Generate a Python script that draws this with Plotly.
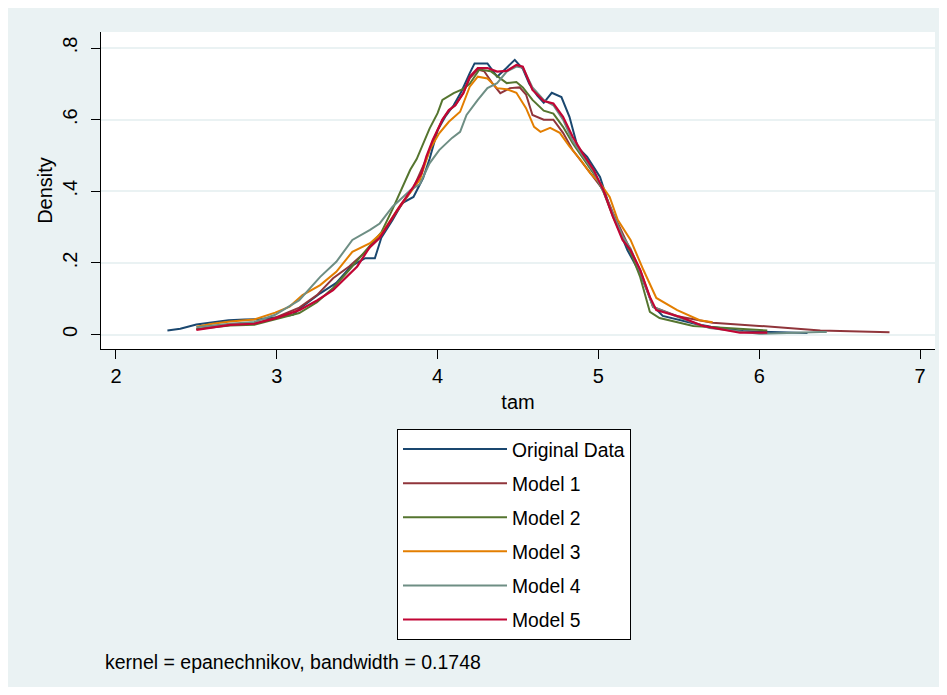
import plotly.graph_objects as go

# ---------------- data ----------------
orig_x = [2.32, 2.40, 2.50, 2.60, 2.70, 2.80, 2.90, 3.00, 3.10, 3.15, 3.27, 3.37, 3.46, 3.55, 3.61, 3.65,
          3.72, 3.78, 3.85, 3.91, 3.95, 4.00, 4.05, 4.10, 4.15, 4.20, 4.23, 4.31, 4.37, 4.43, 4.48, 4.53,
          4.57, 4.62, 4.66, 4.71, 4.77, 4.82, 4.87, 4.93, 5.01, 5.07, 5.13, 5.18, 5.26, 5.34, 5.40, 5.50,
          5.60, 5.70, 5.80, 5.90, 6.00, 6.10, 6.20, 6.30]
orig_y = [0.011, 0.016, 0.028, 0.035, 0.040, 0.042, 0.043, 0.048, 0.055, 0.075, 0.115, 0.144, 0.190, 0.213, 0.213, 0.270,
          0.320, 0.367, 0.384, 0.437, 0.490, 0.570, 0.610, 0.640, 0.680, 0.730, 0.757, 0.757, 0.720, 0.745, 0.767, 0.742,
          0.700, 0.667, 0.647, 0.675, 0.663, 0.608, 0.524, 0.496, 0.440, 0.356, 0.292, 0.236, 0.170, 0.080, 0.052, 0.040,
          0.030, 0.022, 0.015, 0.010, 0.008, 0.006, 0.005, 0.004]

m1_x = [2.50, 2.60, 2.71, 2.86, 2.99, 3.14, 3.25, 3.35, 3.45, 3.55, 3.64, 3.75, 3.85, 3.93, 3.97, 4.03, 4.07, 4.11,
        4.16, 4.20, 4.25, 4.29, 4.34, 4.39, 4.45, 4.51, 4.55, 4.59, 4.66, 4.72, 4.78, 4.84, 4.90, 4.97, 5.03, 5.09,
        5.15, 5.20, 5.26, 5.34, 5.50, 5.71, 6.00, 6.38, 6.81]
m1_y = [0.015, 0.020, 0.027, 0.030, 0.047, 0.075, 0.110, 0.157, 0.190, 0.230, 0.270, 0.345, 0.410, 0.490, 0.540, 0.600, 0.625, 0.640,
        0.674, 0.715, 0.740, 0.735, 0.702, 0.674, 0.688, 0.690, 0.670, 0.613, 0.600, 0.600, 0.563, 0.515, 0.479, 0.440, 0.404, 0.340,
        0.280, 0.235, 0.180, 0.077, 0.050, 0.033, 0.024, 0.011, 0.006]

m2_x = [2.50, 2.60, 2.71, 2.86, 2.99, 3.14, 3.25, 3.35, 3.45, 3.58, 3.65, 3.72, 3.77, 3.83, 3.87, 3.91, 3.95, 4.00,
        4.03, 4.10, 4.16, 4.20, 4.26, 4.33, 4.39, 4.43, 4.49, 4.53, 4.59, 4.66, 4.72, 4.78, 4.84, 4.90, 4.97, 5.03,
        5.09, 5.15, 5.20, 5.26, 5.32, 5.38, 5.51, 5.59, 6.05]
m2_y = [0.015, 0.020, 0.025, 0.027, 0.042, 0.060, 0.090, 0.130, 0.180, 0.250, 0.285, 0.350, 0.400, 0.460, 0.490, 0.530, 0.575, 0.618,
        0.655, 0.674, 0.686, 0.700, 0.740, 0.735, 0.716, 0.702, 0.705, 0.690, 0.655, 0.625, 0.617, 0.580, 0.534, 0.496, 0.450, 0.400,
        0.330, 0.270, 0.230, 0.160, 0.063, 0.046, 0.032, 0.024, 0.011]

m3_x = [2.50, 2.60, 2.71, 2.86, 2.99, 3.08, 3.16, 3.27, 3.37, 3.47, 3.58, 3.66, 3.77, 3.89, 3.95, 4.01, 4.07, 4.14,
        4.20, 4.25, 4.31, 4.37, 4.43, 4.49, 4.55, 4.60, 4.64, 4.70, 4.76, 4.82, 4.89, 4.95, 5.01, 5.07, 5.12, 5.20,
        5.28, 5.36, 5.49, 5.63, 5.71]
m3_y = [0.022, 0.030, 0.036, 0.042, 0.061, 0.078, 0.110, 0.138, 0.175, 0.231, 0.255, 0.287, 0.362, 0.432, 0.515, 0.562, 0.594, 0.622,
        0.692, 0.720, 0.715, 0.688, 0.685, 0.675, 0.632, 0.580, 0.566, 0.577, 0.563, 0.525, 0.487, 0.450, 0.423, 0.384, 0.320, 0.264,
        0.180, 0.102, 0.068, 0.040, 0.034]

m4_x = [2.50, 2.60, 2.71, 2.86, 2.99, 3.14, 3.27, 3.37, 3.47, 3.58, 3.64, 3.72, 3.83, 3.89, 3.95, 4.01, 4.09, 4.14,
        4.18, 4.25, 4.31, 4.37, 4.43, 4.49, 4.53, 4.59, 4.66, 4.72, 4.78, 4.84, 4.90, 4.97, 5.03, 5.09, 5.15, 5.20,
        5.26, 5.34, 5.51, 5.69, 6.00, 6.38, 6.42]
m4_y = [0.020, 0.025, 0.030, 0.035, 0.055, 0.096, 0.161, 0.203, 0.264, 0.292, 0.310, 0.357, 0.403, 0.420, 0.478, 0.515, 0.549, 0.566,
        0.613, 0.655, 0.688, 0.702, 0.734, 0.748, 0.745, 0.690, 0.655, 0.640, 0.600, 0.540, 0.500, 0.455, 0.400, 0.335, 0.275, 0.240,
        0.175, 0.077, 0.046, 0.018, 0.002, 0.007, 0.007]

m5_x = [2.50, 2.60, 2.71, 2.86, 2.99, 3.14, 3.25, 3.35, 3.50, 3.58, 3.64, 3.75, 3.85, 3.90, 3.93, 3.97, 4.03, 4.07,
        4.11, 4.16, 4.20, 4.25, 4.31, 4.37, 4.43, 4.49, 4.53, 4.59, 4.66, 4.72, 4.78, 4.84, 4.90, 4.97, 5.03, 5.09,
        5.15, 5.20, 5.26, 5.32, 5.36, 5.51, 5.65, 5.88, 6.05]
m5_y = [0.013, 0.020, 0.027, 0.030, 0.045, 0.068, 0.095, 0.124, 0.190, 0.245, 0.270, 0.348, 0.413, 0.450, 0.497, 0.543, 0.600, 0.627,
        0.640, 0.674, 0.720, 0.744, 0.744, 0.734, 0.736, 0.753, 0.748, 0.683, 0.652, 0.645, 0.608, 0.552, 0.507, 0.460, 0.404, 0.329,
        0.264, 0.236, 0.180, 0.105, 0.068, 0.049, 0.024, 0.005, 0.005]

series_names = ["Original Data", "Model 1", "Model 2", "Model 3", "Model 4", "Model 5"]
series_x = [orig_x, m1_x, m2_x, m3_x, m4_x, m5_x]
series_y = [orig_y, m1_y, m2_y, m3_y, m4_y, m5_y]
series_colors = ["#1A476F", "#90353B", "#55752F", "#E37E00", "#6E8E84", "#C10534"]

y_ticks = [0, 0.2, 0.4, 0.6, 0.8]
y_tick_labels = ["0", ".2", ".4", ".6", ".8"]
x_ticks = [2, 3, 4, 5, 6, 7]
x_tick_labels = ["2", "3", "4", "5", "6", "7"]
note_text = "kernel = epanechnikov, bandwidth = 0.1748"

# ---------------- figure ----------------
FONT = "Liberation Sans, Arial, sans-serif"
W, H = 931, 679          # the page adds an 8px body margin around the figure
OFF = 8
L, R, T, B = 93, 4, 24, 338

fig = go.Figure()
for i, (nm, xs, ys, c) in enumerate(zip(series_names, series_x, series_y, series_colors)):
    fig.add_trace(go.Scatter(
        x=xs, y=ys, mode="lines", name=nm,
        line=dict(color=c, width=2.2 if i == 5 else 2),
        legendgroup=f"g{i}",
    ))

pw = W - L - R
ph = H - T - B
def px_x(p):   # page pixel -> paper x
    return (p - OFF - L) / pw
def px_y(p):   # page pixel -> paper y
    return (H - B - (p - OFF)) / ph

fig.add_annotation(text=note_text, xref="paper", yref="paper",
                   x=px_x(103), y=px_y(662), xanchor="left", yanchor="middle",
                   showarrow=False, font=dict(family=FONT, size=19.5, color="black"))

fig.update_layout(
    width=W, height=H,
    margin=dict(l=L, r=R, t=T, b=B, pad=0),
    paper_bgcolor="#EAF2F3",
    plot_bgcolor="white",
    font=dict(family=FONT, size=20, color="black"),
    showlegend=True,
    legend=dict(
        x=px_x(397), y=px_y(429), xanchor="left", yanchor="top",
        bgcolor="white", bordercolor="black", borderwidth=1,
        font=dict(family=FONT, size=19.3, color="black"),
        traceorder="grouped", tracegroupgap=6,
        itemwidth=104, itemclick=False,
    ),
    xaxis=dict(
        range=[1.907, 7.093], tickmode="array", tickvals=x_ticks, ticktext=x_tick_labels,
        showgrid=False, zeroline=False, showline=True, linecolor="black", linewidth=1,
        ticks="outside", ticklen=9, tickwidth=1, tickcolor="black",
        tickfont=dict(size=20), ticklabelstandoff=0,
        title=dict(text="tam", font=dict(size=20), standoff=8),
    ),
    yaxis=dict(
        range=[-0.0405, 0.8447], tickmode="array", tickvals=y_ticks, ticktext=y_tick_labels,
        showgrid=True, gridcolor="#EAF2F3", gridwidth=1.5, zeroline=False,
        showline=True, linecolor="black", linewidth=1,
        ticks="outside", ticklen=9, tickwidth=1, tickcolor="black",
        tickangle=-90, tickfont=dict(size=20), ticklabelstandoff=6,
        title=dict(text="Density", font=dict(size=20), standoff=1),
    ),
)

fig.write_html("out.html")
